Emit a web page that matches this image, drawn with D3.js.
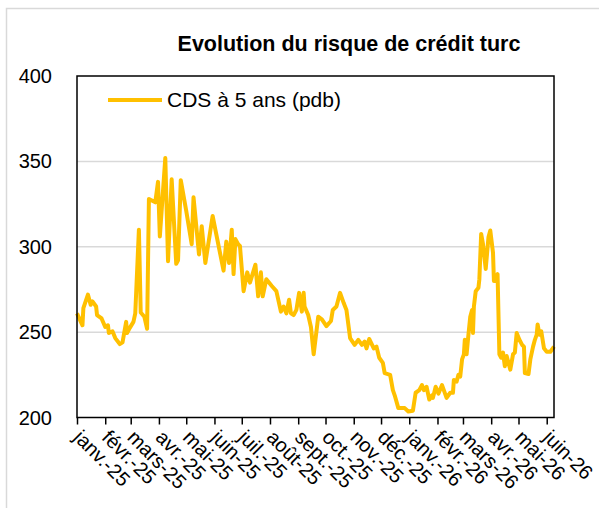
<!DOCTYPE html>
<html>
<head>
<meta charset="utf-8">
<script src="https://cdn.jsdelivr.net/npm/d3@7"></script>
<style>
  html, body { margin: 0; padding: 0; background: #ffffff; }
  svg { display: block; font-family: "Liberation Sans", Arial, sans-serif; }
</style>
</head>
<body>
<svg id="chart" width="599" height="508"></svg>
<script>
const chartTitle = "Evolution du risque de crédit turc";
const seriesName = "CDS à 5 ans (pdb)";

const yTicks = [200, 250, 300, 350, 400];

const monthTicks = [
  "2025-01-01", "2025-02-01", "2025-03-01", "2025-04-01", "2025-05-01", "2025-06-01",
  "2025-07-01", "2025-08-01", "2025-09-01", "2025-10-01", "2025-11-01", "2025-12-01",
  "2026-01-01", "2026-02-01", "2026-03-01", "2026-04-01", "2026-05-01", "2026-06-01"
];
const monthLabels = [
  "janv.-25", "févr.-25", "mars-25", "avr.-25", "mai-25", "juin-25",
  "juil.-25", "août-25", "sept.-25", "oct.-25", "nov.-25", "déc.-25",
  "janv.-26", "févr.-26", "mars-26", "avr.-26", "mai-26", "juin-26"
];

const dates = [
  "2025-01-01", "2025-01-07", "2025-01-08", "2025-01-13", "2025-01-16", "2025-01-18",
  "2025-01-22", "2025-01-23", "2025-01-28", "2025-02-01", "2025-02-04", "2025-02-05",
  "2025-02-09", "2025-02-12", "2025-02-17", "2025-02-20", "2025-02-24", "2025-02-25",
  "2025-02-28", "2025-03-04", "2025-03-06", "2025-03-10", "2025-03-12", "2025-03-16",
  "2025-03-19", "2025-03-21", "2025-03-28", "2025-03-31", "2025-04-02", "2025-04-08",
  "2025-04-11", "2025-04-15", "2025-04-20", "2025-04-22", "2025-04-25", "2025-05-01",
  "2025-05-07", "2025-05-09", "2025-05-15", "2025-05-18", "2025-05-22", "2025-05-30",
  "2025-06-11", "2025-06-14", "2025-06-17", "2025-06-20", "2025-06-22", "2025-06-24",
  "2025-06-27", "2025-06-29", "2025-07-03", "2025-07-07", "2025-07-10", "2025-07-16",
  "2025-07-19", "2025-07-22", "2025-07-24", "2025-07-28", "2025-08-03", "2025-08-08",
  "2025-08-13", "2025-08-16", "2025-08-19", "2025-08-22", "2025-08-24", "2025-08-27",
  "2025-08-30", "2025-09-02", "2025-09-05", "2025-09-07", "2025-09-08", "2025-09-12",
  "2025-09-15", "2025-09-18", "2025-09-23", "2025-09-27", "2025-10-02", "2025-10-07",
  "2025-10-09", "2025-10-13", "2025-10-17", "2025-10-21", "2025-10-24", "2025-10-28",
  "2025-11-02", "2025-11-06", "2025-11-10", "2025-11-13", "2025-11-15", "2025-11-18",
  "2025-11-23", "2025-11-26", "2025-11-29", "2025-12-03", "2025-12-05", "2025-12-11",
  "2025-12-14", "2025-12-16", "2025-12-20", "2025-12-27", "2025-12-31", "2026-01-05",
  "2026-01-08", "2026-01-12", "2026-01-15", "2026-01-17", "2026-01-20", "2026-01-23",
  "2026-01-26", "2026-01-27", "2026-01-30", "2026-02-02", "2026-02-06", "2026-02-11",
  "2026-02-15", "2026-02-18", "2026-02-19", "2026-02-22", "2026-02-24", "2026-02-26",
  "2026-02-28", "2026-03-02", "2026-03-03", "2026-03-05", "2026-03-07", "2026-03-09",
  "2026-03-11", "2026-03-12", "2026-03-13", "2026-03-15", "2026-03-18", "2026-03-19",
  "2026-03-21", "2026-03-23", "2026-03-26", "2026-03-29", "2026-03-31", "2026-04-03",
  "2026-04-04", "2026-04-06", "2026-04-08", "2026-04-10", "2026-04-12", "2026-04-14",
  "2026-04-16", "2026-04-18", "2026-04-22", "2026-04-25", "2026-04-27", "2026-04-29",
  "2026-05-02", "2026-05-05", "2026-05-07", "2026-05-08", "2026-05-12", "2026-05-14",
  "2026-05-17", "2026-05-19", "2026-05-21", "2026-05-22", "2026-05-24", "2026-05-26",
  "2026-05-29", "2026-06-01", "2026-06-05", "2026-06-09"
];

const cds = [
  261, 254, 264, 272, 266, 268,
  265, 260, 258, 253, 254, 249.5,
  250.5, 246.5, 243, 244, 256, 249.5,
  252.5, 256, 261, 310, 261.5, 259,
  252, 328, 326, 338, 306, 352,
  291.5, 339.5, 290, 292, 339, 321,
  301.5, 329, 295.5, 312, 290.5, 318,
  286, 303, 290.5, 310, 284, 304.5,
  301.5, 300.5, 274, 285, 279, 289.5,
  271, 285, 271, 281, 277, 274,
  262, 265, 261, 269, 261, 260,
  263, 273, 262, 273, 265, 260,
  253, 237, 259, 257.5, 253.5, 256.5,
  263, 265, 273, 267, 263, 246.5,
  242.5, 245.5, 242.5, 244.5, 240.5, 246,
  240.5, 241.5, 235, 232, 226, 225,
  216, 213, 205.5, 205.5, 203.5, 204,
  214.5, 216, 219, 216, 218, 210.5,
  213, 211.5, 218, 214, 219, 211.5,
  214.5, 214.5, 222, 221, 225, 224,
  234, 237, 245.5, 237, 248.5, 259,
  263, 249.5, 265, 274, 276, 281,
  307.5, 301.5, 287, 305.5, 309.5, 296.5,
  280, 280, 284, 237, 235, 238,
  230, 236, 228, 237, 238, 249.5,
  245.5, 242.5, 241.5, 226, 225.5, 234,
  241.5, 245.5, 248.5, 254.5, 248.5, 250.5,
  240.5, 238.5, 238.5, 241.5
];

const xStart = "2025-01-01";
const xEnd = "2026-06-09";

const svg = window.d3.select("#chart");
const parseDate = window.d3.utcParse("%Y-%m-%d");

const plot = { left: 77, right: 554, top: 76, bottom: 417.5 };

const points = dates.map((d, i) => ({ date: parseDate(d), value: cds[i] }));

const x = window.d3.scaleUtc()
  .domain([parseDate(xStart), parseDate(xEnd)])
  .range([plot.left, plot.right]);

const y = window.d3.scaleLinear()
  .domain([200, 400])
  .range([plot.bottom, plot.top]);

// outer chart frame (only top/left visible in the crop)
svg
  .append("rect")
  .attr("x", 6.5)
  .attr("y", 8.5)
  .attr("width", 700)
  .attr("height", 700)
  .attr("fill", "none")
  .attr("stroke", "#d9d9d9")
  .attr("stroke-width", 1.5);

svg
  .append("text")
  .attr("x", 349)
  .attr("y", 51)
  .attr("text-anchor", "middle")
  .attr("fill", "#000")
  .style("font-size", "21.5px")
  .style("font-weight", "bold")
  .text(chartTitle);

// gridlines
svg
  .append("g")
  .selectAll("line")
  .data(yTicks.filter((t) => t > 200 && t < 400))
  .join("line")
  .attr("x1", plot.left)
  .attr("x2", plot.right)
  .attr("y1", (d) => y(d))
  .attr("y2", (d) => y(d))
  .attr("stroke", "#d9d9d9")
  .attr("stroke-width", 1.5);

// y axis labels
svg
  .append("g")
  .selectAll("text")
  .data(yTicks)
  .join("text")
  .attr("x", 52)
  .attr("y", (d) => y(d))
  .attr("dy", "0.35em")
  .attr("text-anchor", "end")
  .attr("fill", "#000")
  .style("font-size", "20px")
  .text((d) => d);

// x axis ticks + rotated labels
const xAxis = window.d3.axisBottom(x)
  .tickValues(monthTicks.map(parseDate))
  .tickSize(7)
  .tickFormat((d, i) => monthLabels[i]);

const xAxisGroup = svg
  .append("g")
  .attr("transform", `translate(0,${plot.bottom})`)
  .call(xAxis);

xAxisGroup.select(".domain").remove();
xAxisGroup.selectAll(".tick line")
  .attr("stroke", "#000")
  .attr("stroke-width", 1.5);
xAxisGroup.selectAll(".tick text")
  .attr("fill", "#000")
  .attr("y", 0)
  .attr("dy", 0)
  .attr("text-anchor", "start")
  .attr("transform", "translate(-5,21) rotate(45)")
  .style("font-size", "20px")
  .style("font-family", "'Liberation Sans', Arial, sans-serif");

// data line
const line = window.d3.line()
  .x((d) => x(d.date))
  .y((d) => y(d.value));

svg
  .append("path")
  .datum(points)
  .attr("d", line)
  .attr("fill", "none")
  .attr("stroke", "#ffc000")
  .attr("stroke-width", 4)
  .attr("stroke-linejoin", "round");

// plot area border
svg
  .append("rect")
  .attr("x", plot.left)
  .attr("y", plot.top)
  .attr("width", plot.right - plot.left)
  .attr("height", plot.bottom - plot.top)
  .attr("fill", "none")
  .attr("stroke", "#000")
  .attr("stroke-width", 1.5);

// legend
svg
  .append("line")
  .attr("x1", 108)
  .attr("x2", 162)
  .attr("y1", 100)
  .attr("y2", 100)
  .attr("stroke", "#ffc000")
  .attr("stroke-width", 4);

svg
  .append("text")
  .attr("x", 167)
  .attr("y", 100)
  .attr("dy", "0.35em")
  .attr("fill", "#000")
  .style("font-size", "21px")
  .text(seriesName);
</script>
</body>
</html>
